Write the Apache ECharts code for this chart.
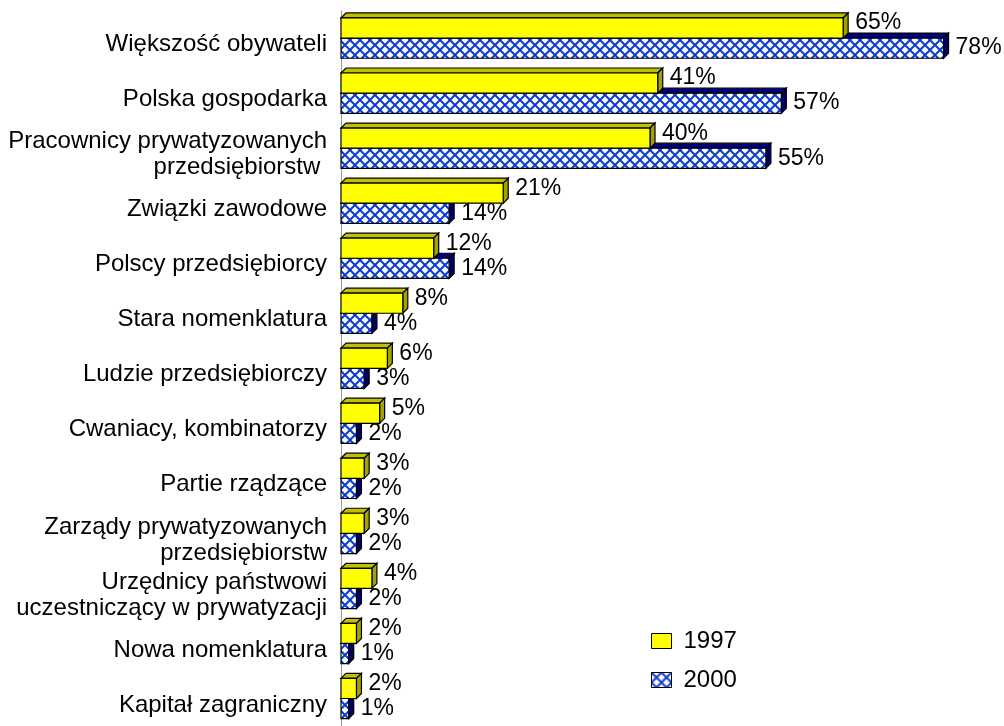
<!DOCTYPE html>
<html><head><meta charset="utf-8">
<script src="https://cdn.jsdelivr.net/npm/echarts@6/dist/echarts.min.js"></script>
<style>html,body{margin:0;padding:0;background:#fff}#c{width:1004px;height:726px}</style>
</head><body><div id="c"></div>
<script>
const categories = [
  'Większość obywateli',
  'Polska gospodarka',
  'Pracownicy prywatyzowanych\nprzedsiębiorstw ',
  'Związki zawodowe',
  'Polscy przedsiębiorcy',
  'Stara nomenklatura',
  'Ludzie przedsiębiorczy',
  'Cwaniacy, kombinatorzy',
  'Partie rządzące',
  'Zarządy prywatyzowanych\nprzedsiębiorstw',
  'Urzędnicy państwowi\nuczestniczący w prywatyzacji',
  'Nowa nomenklatura',
  'Kapitał zagraniczny'
];
const values1997 = [65, 41, 40, 21, 12, 8, 6, 5, 3, 3, 4, 2, 2];
const values2000 = [78, 57, 55, 14, 14, 4, 3, 2, 2, 2, 2, 1, 1];
const seriesNames = ['1997', '2000'];

const FONT = '"Liberation Sans", Arial, sans-serif';

// crosshatch pattern
const pc = document.createElement('canvas');
pc.width = 10; pc.height = 10;
const g = pc.getContext('2d');
g.fillStyle = '#ffffff'; g.fillRect(0, 0, 10, 10);
g.strokeStyle = '#0a3cd2'; g.lineWidth = 2;
g.beginPath();
g.moveTo(-2, -2); g.lineTo(12, 12);
g.moveTo(12, -2); g.lineTo(-2, 12);
g.stroke();
const hatch = { image: pc, repeat: 'repeat' };

const D = 5;
function makeRender(isTop, front, topC, sideC, labOff) {
  return function (params, api) {
    const v = api.value(0), idx = api.value(1);
    const p0 = api.coord([0, idx]);
    const p1 = api.coord([v, idx]);
    const h = api.size([0, 1])[1] * 0.366;
    const yc = p0[1];
    const y0 = isTop ? yc - h : yc;
    const y1 = y0 + h;
    const x0 = p0[0], x1 = p1[0];
    const line = { stroke: '#000', lineWidth: 1.2 };
    return {
      type: 'group',
      children: [
        { type: 'polygon', shape: { points: [[x0, y0], [x0 + D, y0 - D], [x1 + D, y0 - D], [x1, y0]] },
          style: Object.assign({ fill: topC }, line) },
        { type: 'polygon', shape: { points: [[x1, y0], [x1 + D, y0 - D], [x1 + D, y1 - D], [x1, y1]] },
          style: Object.assign({ fill: sideC }, line) },
        { type: 'rect', shape: { x: x0, y: y0, width: x1 - x0, height: h },
          style: Object.assign({ fill: front }, line) },
        { type: 'text', style: { text: v + '%', x: x1 + D + 7, y: yc + labOff,
          font: '23px ' + FONT, fill: '#000', verticalAlign: 'middle', align: 'left' } }
      ]
    };
  };
}

const chart = echarts.init(document.getElementById('c'), null, { renderer: 'canvas' });
chart.setOption({
  animation: false,
  backgroundColor: '#fff',
  grid: { left: 341, right: 45, top: 10.6, bottom: -4.4, containLabel: false },
  xAxis: { type: 'value', min: 0, max: 80, show: false },
  yAxis: {
    type: 'category', data: categories, inverse: true,
    axisLine: { show: true, lineStyle: { color: '#999', width: 1 } },
    axisTick: { show: false },
    axisLabel: {
      margin: 14, align: 'right',
      formatter: function (v) {
        return '{s| }\n' + v.split('\n').map(function (l) { return '{a|' + l + '}'; }).join('\n');
      },
      rich: {
        s: { fontSize: 2, lineHeight: 13 },
        a: { fontSize: 24, fontFamily: FONT, color: '#000', lineHeight: 26 }
      }
    }
  },
  legend: {
    orient: 'vertical', left: 651, top: 629, padding: 0,
    itemWidth: 20, itemHeight: 15, itemGap: 15,
    textStyle: { fontSize: 24, fontFamily: FONT, color: '#000', padding: [0, 0, 0, 7] },
    data: [
      { name: '1997', icon: 'rect', itemStyle: { color: '#ffff00', borderColor: '#000', borderWidth: 1 } },
      { name: '2000', icon: 'rect', itemStyle: { color: hatch, borderColor: '#000', borderWidth: 1 } }
    ]
  },
  series: [
    { name: seriesNames[1], type: 'custom', clip: false, encode: { x: 0, y: 1 },
      itemStyle: { color: hatch },
      renderItem: makeRender(false, hatch, '#000080', '#000066', 10),
      data: values2000.map((v, i) => [v, i]) },
    { name: seriesNames[0], type: 'custom', clip: false, encode: { x: 0, y: 1 },
      itemStyle: { color: '#ffff00' },
      renderItem: makeRender(true, '#ffff00', '#c0c000', '#a3a300', -15),
      data: values1997.map((v, i) => [v, i]) }
  ]
});
</script></body></html>
